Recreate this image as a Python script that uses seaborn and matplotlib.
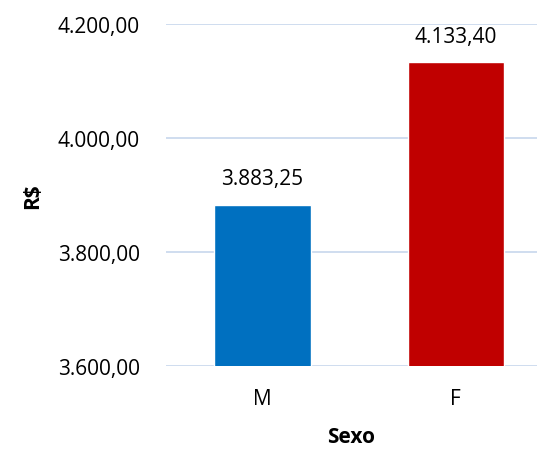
import matplotlib
matplotlib.use("Agg")
import matplotlib.pyplot as plt
import seaborn as sns
import pandas as pd

# Data
sexo = ["M", "F"]
salario = [3883.25, 4133.40]
cores = ["#0070C0", "#C00000"]
y_ticks = [3600, 3800, 4000, 4200]


def fmt_br(v):
    s = f"{v:,.2f}"
    return s.replace(",", "X").replace(".", ",").replace("X", ".")


sns.set_style("white")
plt.rcParams["font.family"] = ["Open Sans", "DejaVu Sans"]
plt.rcParams["text.color"] = "black"
plt.rcParams["axes.labelcolor"] = "black"
plt.rcParams["xtick.color"] = "black"
plt.rcParams["ytick.color"] = "black"

df = pd.DataFrame({"Sexo": sexo, "R$": salario})

fig = plt.figure(figsize=(5.37, 4.52), dpi=100)
ax = fig.add_axes([166 / 537, 85 / 452, 1 - 166 / 537, 342 / 452])

sns.barplot(data=df, x="Sexo", y="R$", hue="Sexo", palette=cores,
            width=0.5, saturation=1, legend=False, ax=ax, zorder=3)

ax.set_ylim(3600, 4200)
ax.set_xlim(-0.5, 1.42)
ax.set_yticks(y_ticks)
ax.set_yticklabels([fmt_br(v) for v in y_ticks], fontsize=15)
ax.tick_params(axis="x", labelsize=15, length=0, pad=16)
ax.tick_params(axis="y", length=0, pad=19)
ax.grid(axis="y", color="#CCDAEE", linewidth=1.3, zorder=0)
ax.set_axisbelow(True)
for sp in ax.spines.values():
    sp.set_visible(False)

for i, v in enumerate(salario):
    ax.annotate(fmt_br(v), (i, v), xytext=(0, 11), textcoords="offset points",
                ha="center", va="bottom", fontsize=15)

ax.set_xlabel("Sexo", fontsize=15, fontweight="bold", labelpad=12)
ax.set_ylabel("R$", fontsize=15, fontweight="bold", labelpad=10)

fig.savefig("out.png", dpi=100)
